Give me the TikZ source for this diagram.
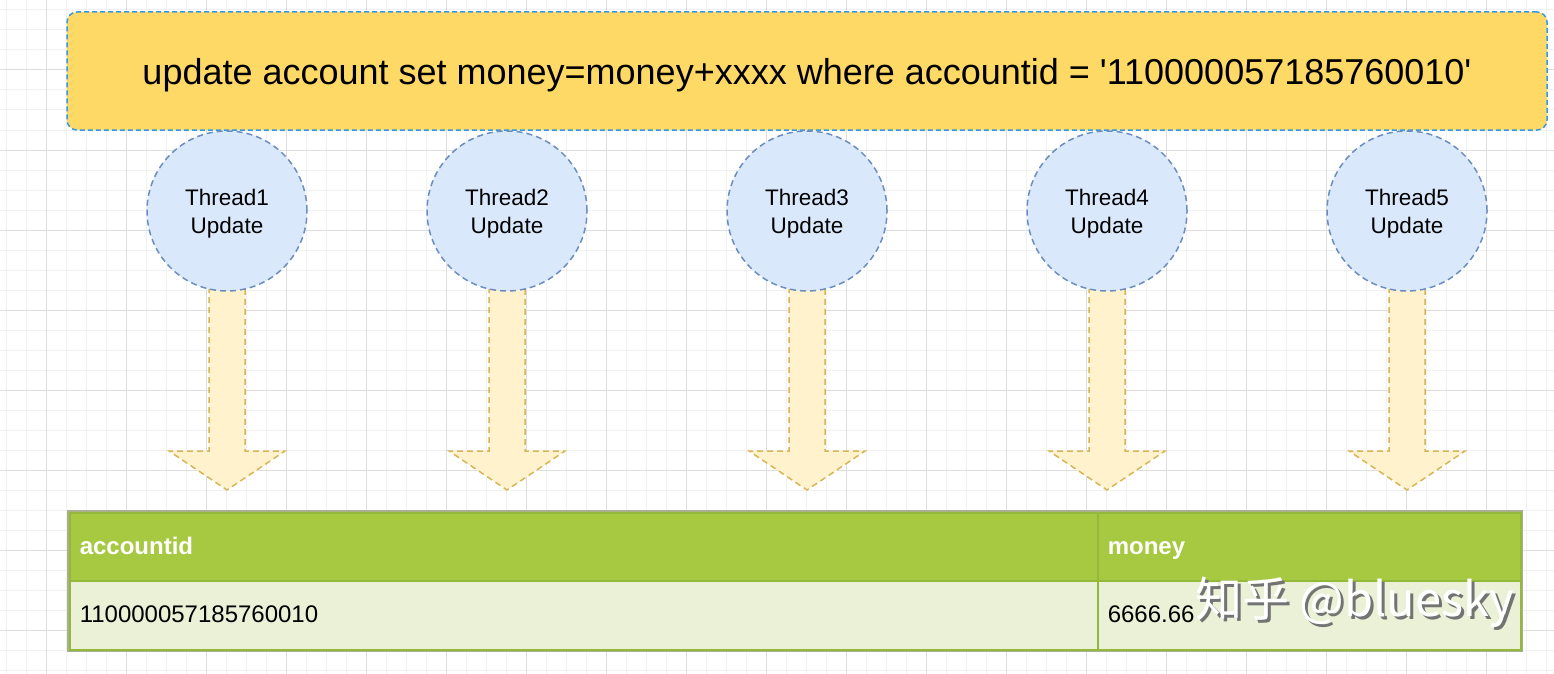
\documentclass[tikz,border=0pt]{standalone}
\usepackage{fontspec}
\setmainfont{Liberation Sans}[Ligatures=TeXOff]
\newfontfamily\cjk{Noto Sans CJK SC}
\usetikzlibrary{calc}
\definecolor{gridminor}{HTML}{F1F1F1}
\definecolor{gridmajor}{HTML}{DEDEDE}
\definecolor{sqlfill}{HTML}{FFD966}
\definecolor{selblue}{HTML}{3A9AD9}
\definecolor{thfill}{HTML}{DAE8FC}
\definecolor{thdraw}{HTML}{6C8EBF}
\definecolor{arrfill}{HTML}{FFF2CC}
\definecolor{arrdraw}{HTML}{D6B656}
\definecolor{hdrfill}{HTML}{A7C942}
\definecolor{rowfill}{HTML}{EAF1D7}
\definecolor{tabline}{HTML}{93B83B}
\definecolor{tabouter}{HTML}{A9B092}
\tikzset{
  sqlbox/.style={draw=selblue, fill=sqlfill, rounded corners=10pt, line width=1.5pt,
    dash pattern=on 5pt off 3pt, minimum width=1480pt, minimum height=118pt},
  sqltext/.style={inner sep=0pt, font=\fontsize{36}{40}\selectfont},
  thread/.style={circle, draw=thdraw, fill=thfill, line width=1.5pt,
    dash pattern=on 6pt off 4pt, minimum size=160pt, inner sep=0pt},
  threadtext/.style={align=center, inner sep=0pt, font=\fontsize{22.5}{28}\selectfont},
  bigarrow/.style={draw=arrdraw, fill=arrfill, line width=1.5pt, dash pattern=on 6pt off 4pt},
  hdrcell/.style={draw=tabline, fill=hdrfill, line width=1.5pt, anchor=north west,
    inner xsep=10pt, align=left, text=white, minimum height=68pt,
    text height=19pt, text depth=3pt,
    font=\fontsize{24}{28}\selectfont\bfseries},
  rowcell/.style={draw=tabline, fill=rowfill, line width=1.5pt, anchor=north west,
    inner xsep=10pt, align=left, text=black, minimum height=69pt,
    text height=18pt, text depth=4pt,
    font=\fontsize{24}{28}\selectfont},
  wmark/.style={anchor=west, inner sep=0pt, font=\cjk\fontsize{47}{52}\selectfont}
}
\begin{document}
\begin{tikzpicture}[x=1pt,y=-1pt]
\useasboundingbox (0,0) rectangle (1554,674);
\fill[white] (0,0) rectangle (1554,674);
% grid
\foreach \k in {0,...,77} \draw[gridminor, line width=1pt] ({6.7+20*\k},0) -- ++(0,674);
\foreach \k in {0,...,33} \draw[gridminor, line width=1pt] (0,{10+20*\k}) -- ++(1554,0);
\foreach \k in {0,...,18} \draw[gridmajor, line width=1pt] ({46.7+80*\k},0) -- ++(0,674);
\foreach \k in {0,...,7} \draw[gridmajor, line width=1pt] (0,{70+80*\k}) -- ++(1554,0);

% SQL box
\node[sqlbox] (sql) at (807,71) {};
\node[sqltext] (sqlt) at (807,75) {update account set money=money+xxxx where accountid = '110000057185760010'};

% thread circles (positions)
\coordinate (c1) at (227,211);
\coordinate (c2) at (507,211);
\coordinate (c3) at (807,211);
\coordinate (c4) at (1107,211);
\coordinate (c5) at (1407,211);

% block arrows (under circles)
\foreach \i in {1,...,5} {
  \coordinate (a\i) at ($(c\i)+(0,279)$);
  \draw[bigarrow] ($(c\i)+(-18,76)$) -- ($(c\i)+(-18,240)$) -- ($(c\i)+(-58,240)$)
     -- (a\i) -- ($(c\i)+(58,240)$) -- ($(c\i)+(18,240)$) -- ($(c\i)+(18,76)$) -- cycle;
}

\foreach \i in {1,...,5} {
  \node[thread] (t\i) at (c\i) {};
  \node[threadtext] (tt\i) at ($(c\i)+(0,3)$) {Thread\i\\Update};
}

% table
\draw[tabouter, line width=3pt] (68,511) rectangle (1521,650);
\node[hdrcell, text width=1008pt] (h1) at (69,512) {accountid};
\node[hdrcell, text width=403pt] (h2) at (1097,512) {money};
\node[rowcell, text width=1008pt] (r1) at (69,580) {110000057185760010};
\node[rowcell, text width=403pt] (r2) at (1097,580) {6666.66};

% watermark
\node[wmark, text=black!55] (wms) at (1198,605) {知乎 @bluesky};
\node[wmark, text=white] (wm) at (1195,602) {知乎 @bluesky};
\end{tikzpicture}
\end{document}
